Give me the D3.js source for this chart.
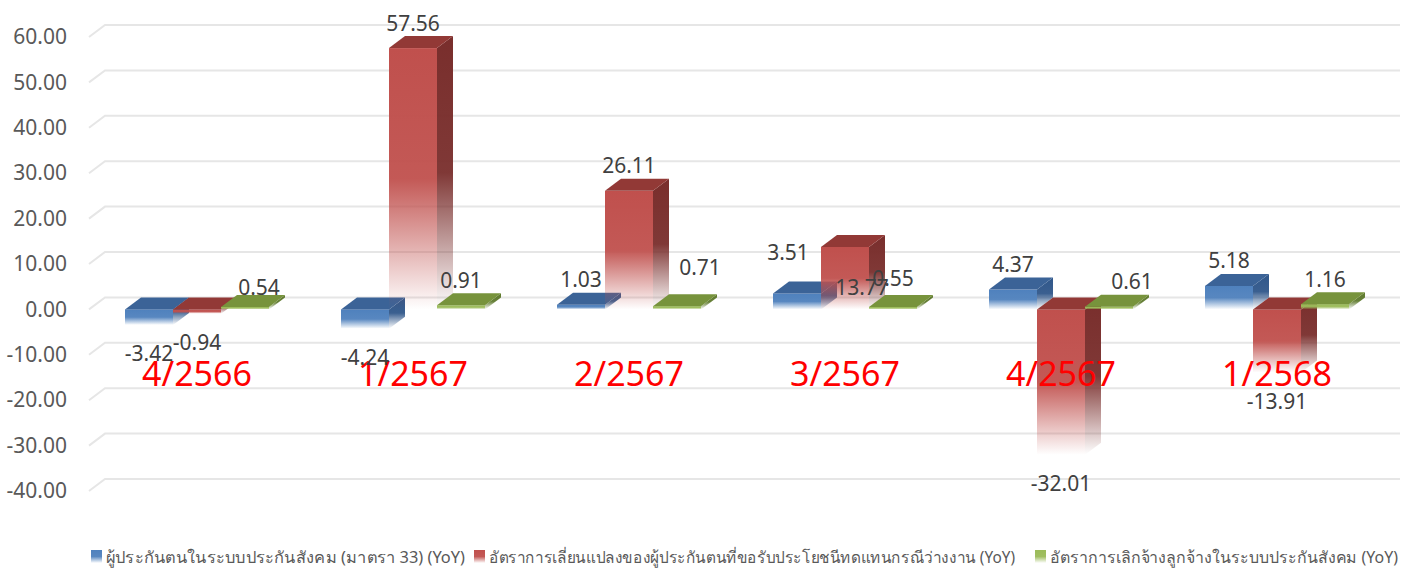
<!DOCTYPE html>
<html>
<head>
<meta charset="utf-8">
<script src="https://cdn.jsdelivr.net/npm/d3@7"></script>
<style>
  html, body { margin: 0; padding: 0; background: #ffffff; }
  svg { display: block; }
  text { font-family: "Noto Sans", "DejaVu Sans", sans-serif; }
</style>
</head>
<body>
<svg id="chart" width="1408" height="570"></svg>
<script>
// ---------------- data ----------------
const categories = ["4/2566", "1/2567", "2/2567", "3/2567", "4/2567", "1/2568"];
const seriesNames = [
  "ผู้ประกันตนในระบบประกันสังคม (มาตรา 33) (YoY)",
  "อัตราการเลี่ยนแปลงของผู้ประกันตนที่ขอรับประโยชนีทดแทนกรณีว่างงาน (YoY)",
  "อัตราการเลิกจ้างลูกจ้างในระบบประกันสังคม (YoY)"
];
const insuredYoY      = [-3.42, -4.24, 1.03, 3.51, 4.37, 5.18];
const unemploymentYoY = [-0.94, 57.56, 26.11, 13.77, -32.01, -13.91];
const layoffYoY       = [0.54, 0.91, 0.71, 0.55, 0.61, 1.16];
const tickValues = [-40, -30, -20, -10, 0, 10, 20, 30, 40, 50, 60];

// ---------------- styles ----------------
const seriesKeys = ["s0", "s1", "s2"];
const seriesValues = [insuredYoY, unemploymentYoY, layoffYoY];
const colors = {
  s0: { front: "#4F81BD", top: "#3B6397", side: "#30578A" },
  s1: { front: "#C0504D", top: "#923936", side: "#792E2C" },
  s2: { front: "#9BBB59", top: "#77933C", side: "#5F7A2E" }
};
const depthX = 16, depthY = 12;

const svg = d3.select("#chart");
const defs = svg.append("defs");

seriesKeys.forEach(k => {
  ["front", "side"].forEach(face => {
    const g = defs.append("linearGradient")
      .attr("id", `grad-${k}-${face}`)
      .attr("x1", 0).attr("y1", 0).attr("x2", 0).attr("y2", 1);
    g.append("stop").attr("offset", "0").attr("stop-color", colors[k][face]).attr("stop-opacity", 1);
    g.append("stop").attr("offset", "0.5").attr("stop-color", colors[k][face]).attr("stop-opacity", 0.95);
    g.append("stop").attr("offset", "1").attr("stop-color", colors[k][face]).attr("stop-opacity", 0.0);
  });
});

// ---------------- scales ----------------
const x0 = d3.scaleBand().domain(categories).range([89, 1385]).paddingInner(1/3).paddingOuter(1/6);
const x1 = d3.scaleBand().domain(seriesKeys).range([0, x0.bandwidth()]);
const y = d3.scaleLinear().domain([-40, 60]).range([491, 37]);

// ---------------- gridlines (back wall + side wall) ----------------
const grid = svg.append("g").attr("class", "grid");
tickValues.forEach(t => {
  const yf = y(t), yb = y(t) - depthY;
  grid.append("path")
    .attr("d", `M${x0.range()[0]},${yf} L${x0.range()[0] + depthX},${yb} L1400,${yb}`)
    .attr("fill", "none")
    .attr("stroke", "#E6E6E6")
    .attr("stroke-width", 2);
});

// ---------------- y axis ----------------
const yAxis = d3.axisLeft(y)
  .tickValues(tickValues)
  .tickSize(0)
  .tickPadding(0)
  .tickFormat(d => d.toFixed(2));
const axisG = svg.append("g").attr("transform", "translate(67,0)").call(yAxis);
axisG.select(".domain").remove();
axisG.selectAll("text")
  .attr("fill", "#595959")
  .style("font-size", "21px")
  .style("font-family", "'Noto Sans', 'DejaVu Sans', sans-serif");

// ---------------- bars ----------------
const barsG = svg.append("g");
categories.forEach((cat, ci) => {
  seriesKeys.forEach((k, si) => {
    const v = seriesValues[si][ci];
    const bx = x0(cat) + x1(k);
    const w = x1.bandwidth();
    const yTop = y(Math.max(0, v));
    const yBot = y(Math.min(0, v));
    const h = Math.max(yBot - yTop, 0.5);
    const g = barsG.append("g");
    // front face
    g.append("rect")
      .attr("x", bx).attr("y", yTop).attr("width", w).attr("height", h)
      .attr("fill", `url(#grad-${k}-front)`);
    // side face
    g.append("path")
      .attr("d", `M${bx + w},${yTop} L${bx + w + depthX},${yTop - depthY} L${bx + w + depthX},${yTop + h - depthY} L${bx + w},${yTop + h} Z`)
      .attr("fill", `url(#grad-${k}-side)`);
    // top face
    g.append("path")
      .attr("d", `M${bx},${yTop} L${bx + depthX},${yTop - depthY} L${bx + w + depthX},${yTop - depthY} L${bx + w},${yTop} Z`)
      .attr("fill", colors[k].top);
  });
});

// ---------------- category labels ----------------
svg.append("g").selectAll("text")
  .data(categories)
  .join("text")
  .attr("x", d => x0(d) + x0.bandwidth() / 2)
  .attr("y", 386)
  .attr("text-anchor", "middle")
  .attr("fill", "#FF0000")
  .style("font-size", "34px")
  .text(d => d);

// ---------------- data labels ----------------
// manual nudges reproducing the reference's label placement
const nudges = {
  "0-2": [14, 6],
  "2-2": [23, -14],
  "4-2": [23, 0],
  "3-0": [-9, -16],
  "3-1": [17, 66],
  "3-2": [0, -3]
};
const labelsG = svg.append("g");
categories.forEach((cat, ci) => {
  seriesKeys.forEach((k, si) => {
    const v = seriesValues[si][ci];
    const bx = x0(cat) + x1(k);
    const w = x1.bandwidth();
    let cx = bx + w / 2;
    let cy = v >= 0 ? y(v) - 25 : y(v) + 29;
    const n = nudges[`${ci}-${si}`];
    if (n) { cx += n[0]; cy += n[1]; }
    labelsG.append("text")
      .attr("x", cx)
      .attr("y", cy + 7.5)
      .attr("text-anchor", "middle")
      .attr("fill", "#404040")
      .style("font-size", "21px")
      .text(v.toFixed(2));
  });
});

// ---------------- legend ----------------
const legendItems = [
  { key: "s0", x: 91, tx: 106, tw: 359 },
  { key: "s1", x: 474, tx: 489, tw: 526 },
  { key: "s2", x: 1035, tx: 1050, tw: 348 }
];
const legG = svg.append("g");
legendItems.forEach((it, i) => {
  legG.append("rect")
    .attr("x", it.x).attr("y", 550).attr("width", 11).attr("height", 13)
    .attr("fill", `url(#grad-${it.key}-front)`);
  legG.append("text")
    .attr("x", it.tx).attr("y", 563)
    .attr("fill", "#595959")
    .style("font-size", "16px")
    .attr("textLength", it.tw)
    .attr("lengthAdjust", "spacingAndGlyphs")
    .text(seriesNames[i]);
});
</script>
</body>
</html>
